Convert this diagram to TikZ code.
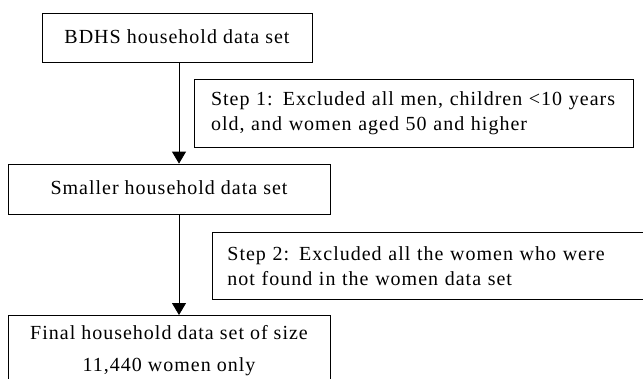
\documentclass[tikz,border=0pt]{standalone}
\usepackage{fontspec}
\setmainfont{Liberation Serif}[LetterSpace=5]
\usetikzlibrary{arrows.meta}

\begin{document}
\begin{tikzpicture}[x=1pt, y=-1pt, font=\fontsize{20}{25}\selectfont] %y points down, units are pixels of the reference
\tikzstyle{stage} = [draw, line width=0.8pt, inner sep=0pt, align=center]
\tikzstyle{note} = [draw, line width=0.8pt, inner sep=0pt, align=left]
\clip (0,0) rectangle (643,378);
\fill[white] (0,0) rectangle (643,378);
\node[stage, minimum width=270pt, minimum height=49pt] (bdhs) at (177, 37.5) {\raisebox{2pt}{BDHS household data set}};
\node[stage, minimum width=322pt, minimum height=50pt] (smaller) at (169, 189) {\raisebox{2pt}{Smaller household data set}};
\node[stage, minimum width=322pt, minimum height=70pt, anchor=north] (final) at (169, 315) {Final household data set of size\\[7pt]11,440 women only};
\node[note, minimum width=439pt, minimum height=68pt, text width=405pt] (step1) at (413.5, 113) {Step 1: Excluded all men, children <10 years\\old, and women aged 50 and higher};
\node[note, minimum width=460pt, minimum height=67pt, text width=430pt, anchor=north west] (step2) at (212, 232) {Step 2: Excluded all the women who were\\not found in the women data set};
\coordinate (axis) at (179, 0); %both arrows run down this line
\foreach \from/\to in {bdhs/smaller, smaller/final}
\draw [line width=0.8pt, -{Triangle[width=14pt, length=12pt]}] (\from.south -| axis) -- (\to.north -| axis);
\end{tikzpicture}
\end{document}
